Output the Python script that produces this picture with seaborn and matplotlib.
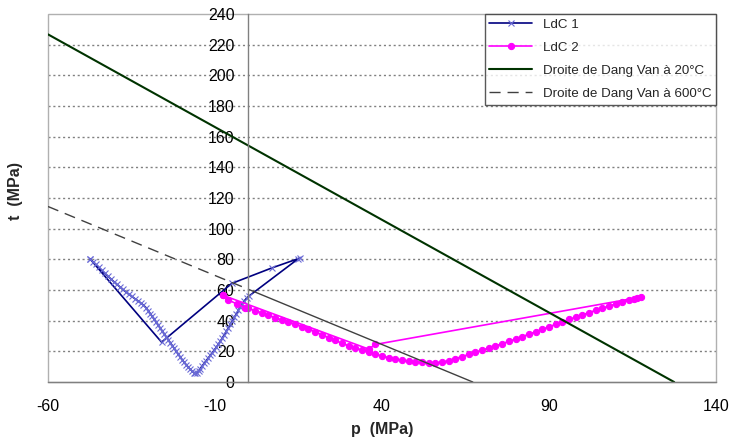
import matplotlib
matplotlib.use("Agg")
import matplotlib.pyplot as plt
import seaborn as sns
from matplotlib.patches import Rectangle

# LdC 1 : loading path (p, t) in MPa
p_ldc1 = [-47.5, -46.6, -45.7, -44.8, -43.9, -43.0, -42.1, -41.2, -40.3, -39.4,
          -38.5, -37.6, -36.7, -35.8, -34.9, -34.0, -33.1, -32.3, -31.5, -30.7,
          -30.0, -29.4, -28.8, -28.2, -27.6, -27.0, -26.4, -25.8, -25.2, -24.6,
          -24.0, -23.4, -22.8, -22.2, -21.6, -21.0, -20.4, -19.8, -19.2, -18.6,
          -18.0, -17.4, -16.8, -16.3, -15.9,
          -15.4, -14.9, -14.4, -13.8, -13.2, -12.6, -12.0, -11.4, -10.8, -10.2,
          -9.6, -9.0, -8.4, -7.8, -7.2, -6.6, -6.0, -5.4, -4.8, -4.2,
          -3.6, -3.0, -2.4, -1.8, -1.2, -0.5, 0.3,
          14.8, 15.6, 7.0, -5.0, -26.0, -47.5]
t_ldc1 = [80.5, 78.6, 76.7, 74.8, 72.9, 71.0, 69.1, 67.3, 65.5, 63.8,
          62.1, 60.4, 58.8, 57.3, 55.8, 54.4, 53.0, 51.7, 50.3, 48.6,
          46.6, 44.7, 42.8, 40.9, 39.0, 37.1, 35.2, 33.3, 31.4, 29.5,
          27.6, 25.7, 23.8, 21.9, 20.0, 18.1, 16.3, 14.5, 12.8, 11.2,
          9.7, 8.3, 7.0, 6.0, 5.6,
          6.0, 7.2, 8.8, 10.6, 12.3, 14.0, 15.7, 17.4, 19.1, 20.9,
          22.7, 24.6, 26.6, 28.7, 30.9, 33.1, 35.3, 37.6, 39.9, 42.2,
          44.5, 46.8, 49.0, 51.1, 53.0, 54.8, 56.3,
          80.2, 81.0, 74.4, 64.3, 26.0, 80.5]

# LdC 2
p_ldc2 = [-7.5, -6.0, -3.5, -1.0,
          0, 2, 4, 6, 8, 10, 12, 14, 16, 18, 20, 22, 24, 26, 28, 30,
          32, 34, 36, 38, 40, 42, 44, 46, 48, 50, 52, 54, 56, 58, 60,
          62, 64, 66, 68, 70, 72, 74, 76, 78, 80, 82, 84, 86, 88, 90,
          92, 94, 96, 98, 100, 102, 104, 106, 108, 110, 112, 114, 115.5,
          116.5, 117.5,
          38.0, 36.0, -7.5]
t_ldc2 = [56.5, 53.5, 51.0, 48.5,
          48.0, 46.6, 45.1, 43.6, 42.0, 40.5, 39.1, 37.7, 36.2, 34.6, 32.8,
          30.9, 29.0, 27.1, 25.3, 23.7,
          22.2, 20.8, 19.5, 18.2, 17.0, 15.9, 15.0, 14.2, 13.6, 13.1, 12.8,
          12.6, 12.6, 13.0, 14.0,
          15.3, 16.6, 18.0, 19.4, 20.8, 22.2, 23.6, 25.0, 26.5, 28.0, 29.6,
          31.2, 32.8, 34.4, 36.0,
          37.6, 39.2, 40.8, 42.3, 43.8, 45.3, 46.8, 48.2, 49.6, 51.0, 52.2,
          53.4, 54.2, 54.8, 55.4,
          24.5, 21.5, 56.5]

# Dang Van lines
p_dv20 = [-60, 127.5]
t_dv20 = [226.8, 0]
p_dv600 = [-60, 0, 67.2]
t_dv600 = [114.5, 60.5, 0]

x_ticks = [-60, -10, 40, 90, 140]
y_ticks = list(range(0, 241, 20))

sns.set_theme(style="white")
plt.rcParams['font.family'] = ['Liberation Sans', 'DejaVu Sans']
plt.rcParams['axes.unicode_minus'] = False

fig, ax = plt.subplots(figsize=(7.32, 4.42), dpi=100)
fig.subplots_adjust(left=0.0656, right=0.978, bottom=0.1357, top=0.968)

# horizontal dotted grid
for yv in y_ticks[1:-1]:
    ax.axhline(yv, color='#808080', lw=1.0, ls=(0, (1.5, 2)), zorder=0)

sns.lineplot(x=p_ldc1, y=t_ldc1, sort=False, estimator=None, ax=ax,
             color='#000080', lw=1.2, marker='x', markersize=4.5,
             markeredgecolor='#6a6ad6', markeredgewidth=0.8, label='LdC 1')
sns.lineplot(x=p_ldc2, y=t_ldc2, sort=False, estimator=None, ax=ax,
             color='#ff00ff', lw=1.2, marker='o', markersize=4.5,
             markeredgecolor='#ff00ff', markerfacecolor='#ff00ff',
             label='LdC 2')
sns.lineplot(x=p_dv20, y=t_dv20, sort=False, estimator=None, ax=ax,
             color='#003300', lw=1.5, label='Droite de Dang Van à 20°C')
sns.lineplot(x=p_dv600[:2], y=t_dv600[:2], sort=False, estimator=None, ax=ax,
             color='#404040', lw=1.0, ls=(0, (8, 5)),
             label='Droite de Dang Van à 600°C')
sns.lineplot(x=p_dv600[1:], y=t_dv600[1:], sort=False, estimator=None, ax=ax,
             color='#404040', lw=1.0, legend=False)

ax.set_xlim(-60, 140)
ax.set_ylim(0, 240)
ax.set_xticks(x_ticks)
ax.set_yticks(y_ticks)

# y axis crosses at p = 0
for s in ['top', 'right']:
    ax.spines[s].set_visible(False)
ax.spines['left'].set_position(('data', 0))
ax.spines['left'].set_color('#808080')
ax.spines['bottom'].set_color('#808080')
ax.spines['left'].set_linewidth(1.0)
ax.spines['bottom'].set_linewidth(1.0)
ax.add_patch(Rectangle((0, 0), 1, 1, transform=ax.transAxes, fill=False,
                       edgecolor='#b0b0b0', lw=1.0, zorder=0.5, clip_on=False))

ax.tick_params(axis='both', which='major', direction='out', length=4,
               width=1, color='#808080', labelsize=11.5, labelcolor='black')
ax.tick_params(axis='y', pad=6)
ax.tick_params(axis='x', pad=8)

ax.set_xlabel('p  (MPa)', fontsize=11.5, fontweight='bold', labelpad=6)
ax.set_ylabel('t  (MPa)', fontsize=11.5, fontweight='bold')
ax.yaxis.set_label_coords(-0.038, 0.52)

leg = ax.legend(loc='upper right', borderaxespad=0, fontsize=9.6,
                frameon=True, fancybox=False, handlelength=3.2,
                labelspacing=0.8, borderpad=0.35, handletextpad=0.8)
leg.get_frame().set_edgecolor('#303030')
leg.get_frame().set_linewidth(1.0)

fig.savefig('out.png', dpi=100)
